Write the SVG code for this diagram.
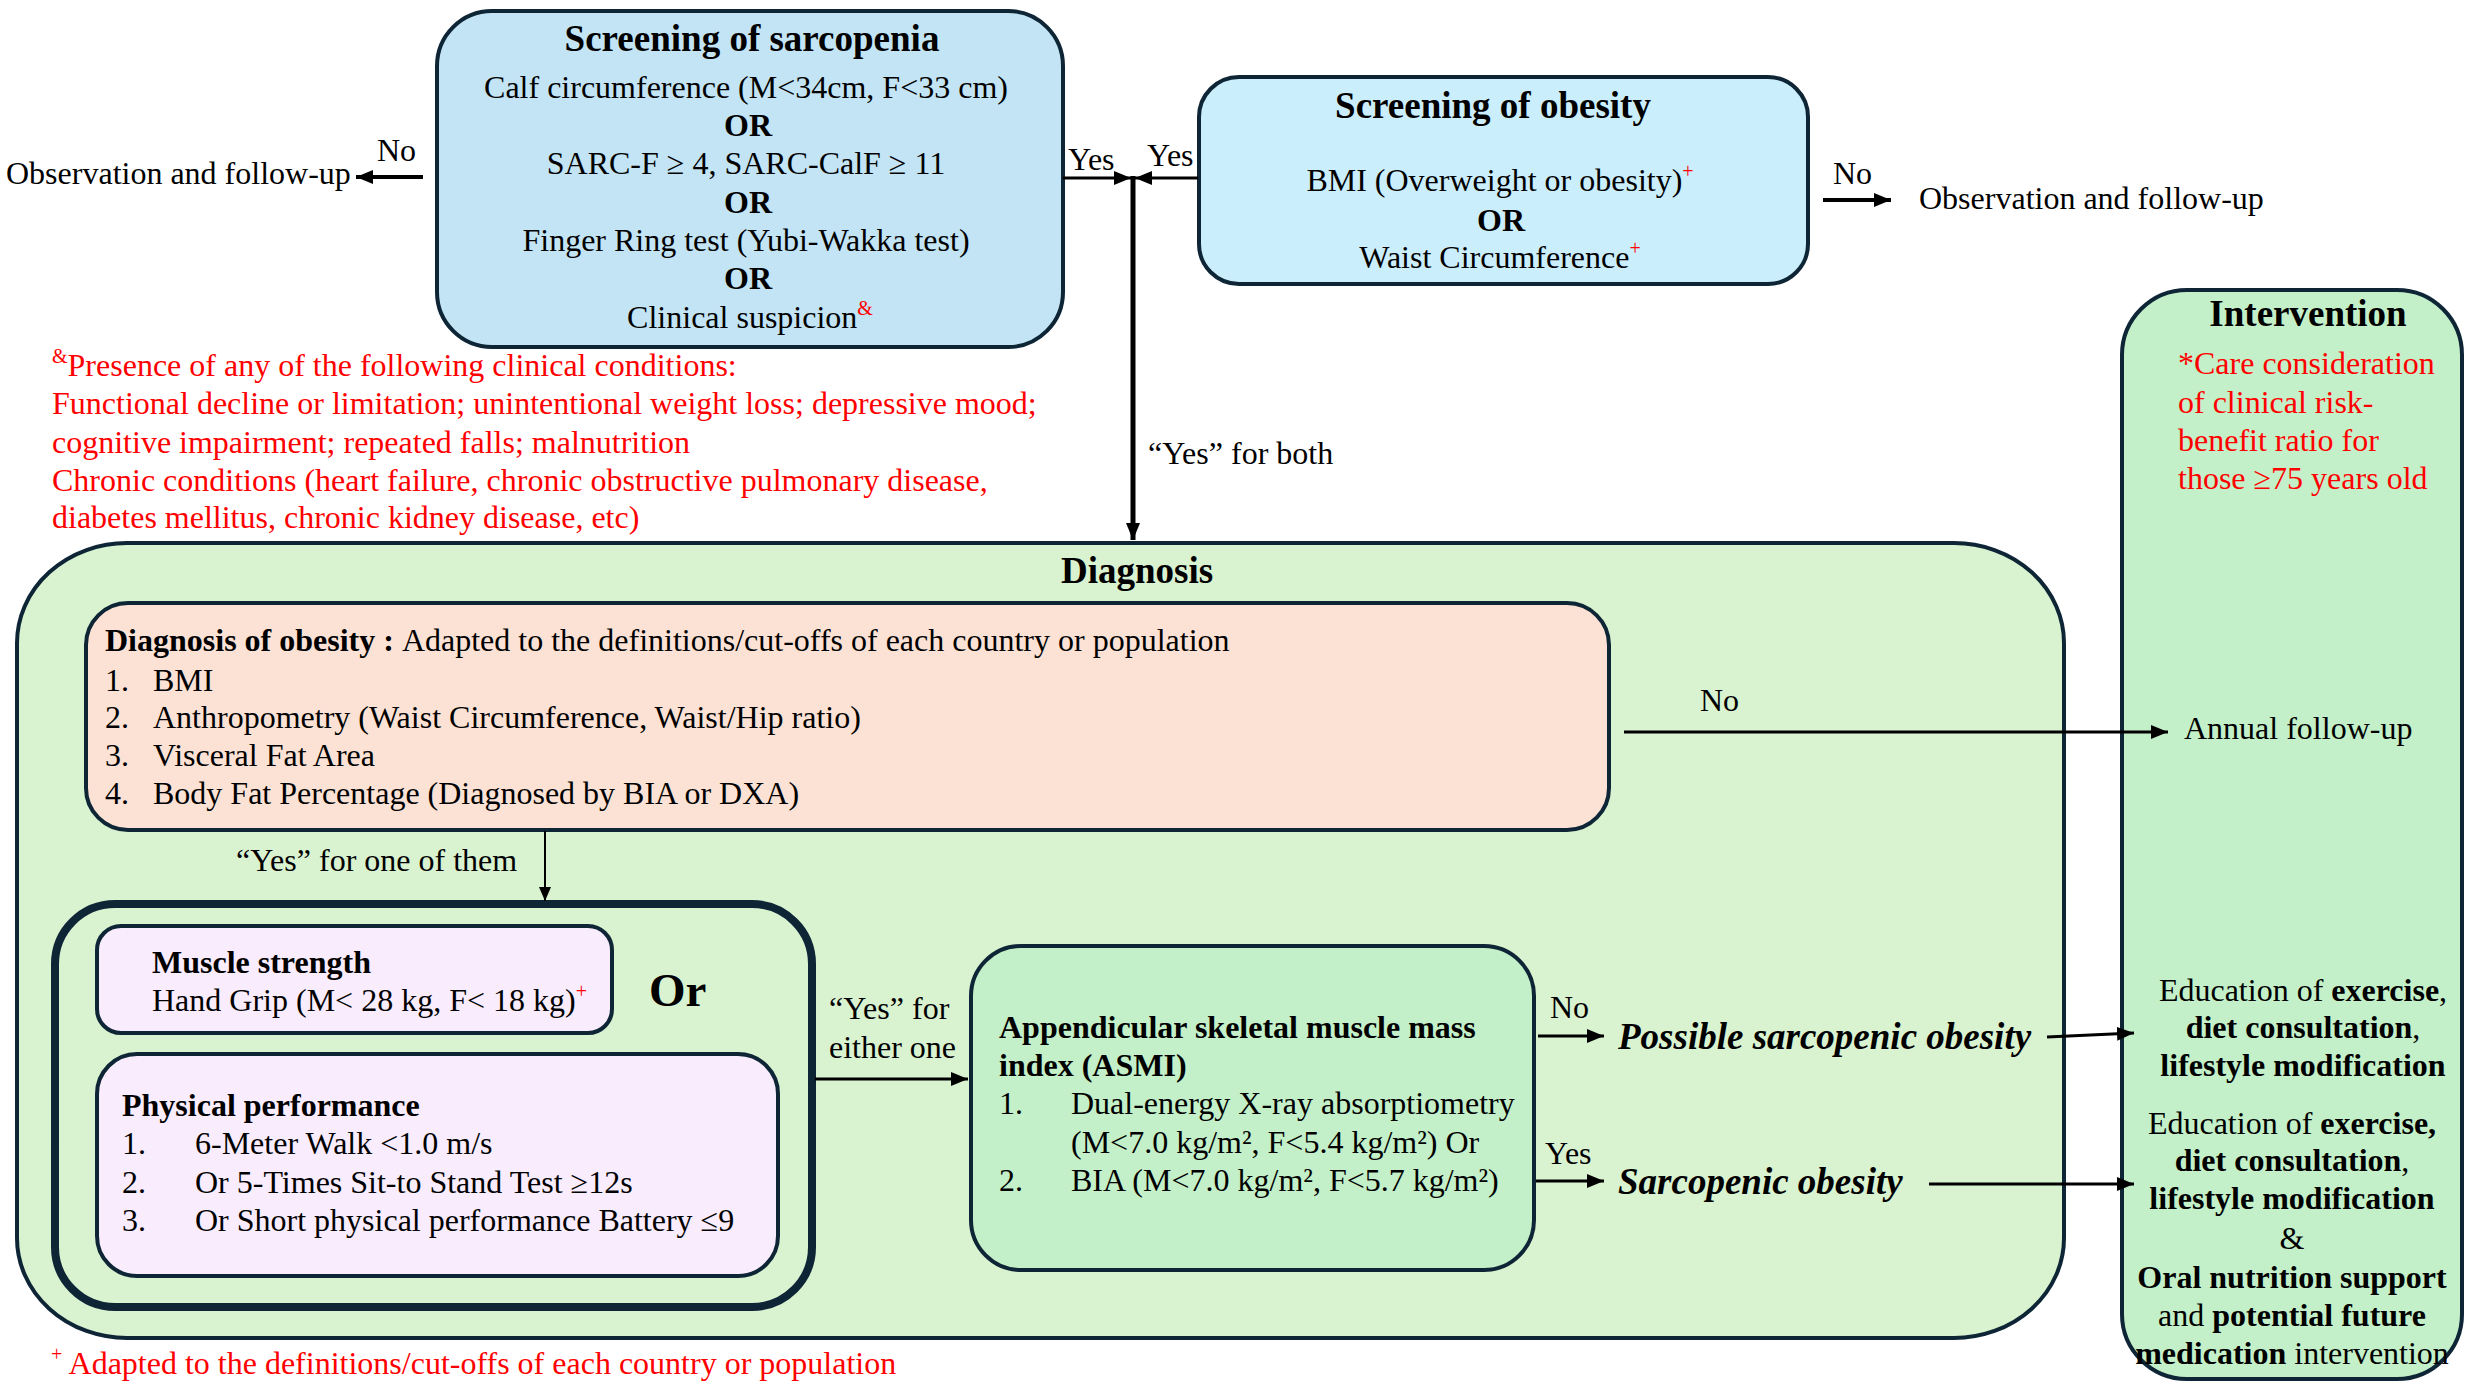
<svg xmlns="http://www.w3.org/2000/svg" width="2465" height="1382" viewBox="0 0 2465 1382">
<defs>
<style>
text{font-family:"Liberation Serif","Times New Roman",serif;font-size:32px;fill:#000}
.b{font-weight:bold}
.t{font-weight:bold;font-size:37px}
.c{text-anchor:middle}
.r{fill:#ff0000}
.bi{font-weight:bold;font-style:italic;font-size:37px}
.or{font-weight:bold;font-size:47px}
.box{stroke:#0e2536;stroke-width:4}
.ln{stroke:#000;stroke-width:3;fill:none}
.w4{stroke-width:4}
.w5{stroke-width:5}
.w2{stroke-width:2}
.sup{font-size:20px;fill:#ff0000}
</style>
<marker id="ah" markerUnits="userSpaceOnUse" markerWidth="18" markerHeight="14" refX="17" refY="7" orient="auto">
<path d="M0,0 L17,7 L0,14 z" fill="#000"/>
</marker>
<marker id="ahs" markerUnits="userSpaceOnUse" markerWidth="14" markerHeight="12" refX="14" refY="6" orient="auto">
<path d="M0,0 L14,6 L0,12 z" fill="#000"/>
</marker>
</defs>
<rect width="2465" height="1382" fill="#fff"/>

<g id="diagnosis">
<rect class="box" x="17" y="543" width="2047" height="795" rx="110" ry="100" fill="#d9f2d0"/>
<text class="t c" x="1137" y="583">Diagnosis</text>
</g>

<g id="screening-sarcopenia">
<rect class="box" x="437" y="11" width="626" height="336" rx="55" fill="#c2e4f4"/>
<text class="t c" x="752" y="51">Screening of sarcopenia</text>
<text class="c" x="746" y="98">Calf circumference (M&lt;34cm, F&lt;33 cm)</text>
<text class="c b" x="748" y="136">OR</text>
<text class="c" x="746" y="174">SARC-F ≥ 4, SARC-CalF ≥ 11</text>
<text class="c b" x="748" y="213">OR</text>
<text class="c" x="746" y="251">Finger Ring test (Yubi-Wakka test)</text>
<text class="c b" x="748" y="289">OR</text>
<text class="c" x="750" y="328">Clinical suspicion<tspan class="sup" dy="-13">&amp;</tspan></text>
</g>

<g id="screening-obesity">
<rect class="box" x="1199" y="77" width="609" height="207" rx="40" fill="#cbeefc"/>
<text class="t c" x="1493" y="118">Screening of obesity</text>
<text class="c" x="1500" y="191">BMI (Overweight or obesity)<tspan class="sup" dy="-13">+</tspan></text>
<text class="c b" x="1501" y="231">OR</text>
<text class="c" x="1500" y="268">Waist Circumference<tspan class="sup" dy="-13">+</tspan></text>
</g>

<g id="obs-left">
<text x="6" y="184">Observation and follow-up</text>
</g>
<g id="obs-right">
<text x="1919" y="209">Observation and follow-up</text>
</g>

<g id="clinical-note">
<text class="r" x="52" y="376"><tspan class="sup" dy="-13">&amp;</tspan><tspan dy="13">Presence of any of the following clinical conditions:</tspan></text>
<text class="r" x="52" y="414">Functional decline or limitation; unintentional weight loss; depressive mood;</text>
<text class="r" x="52" y="453">cognitive impairment; repeated falls; malnutrition</text>
<text class="r" x="52" y="491">Chronic conditions (heart failure, chronic obstructive pulmonary disease,</text>
<text class="r" x="52" y="528">diabetes mellitus, chronic kidney disease, etc)</text>
</g>

<g id="intervention">
<rect class="box" x="2122" y="290" width="340" height="1089" rx="65" fill="#c3f0c8"/>
<text class="t c" x="2308" y="326">Intervention</text>
<text class="r" x="2178" y="374">*Care consideration</text>
<text class="r" x="2178" y="413">of clinical risk-</text>
<text class="r" x="2178" y="451">benefit ratio for</text>
<text class="r" x="2178" y="489">those  ≥75 years old</text>
<text x="2184" y="739">Annual follow-up</text>
<text class="c" x="2303" y="1001">Education of <tspan class="b">exercise</tspan>,</text>
<text class="c b" x="2303" y="1038">diet consultation<tspan font-weight="normal">,</tspan></text>
<text class="c b" x="2303" y="1076">lifestyle modification</text>
<text class="c" x="2292" y="1134">Education of <tspan class="b">exercise,</tspan></text>
<text class="c b" x="2292" y="1171">diet consultation<tspan font-weight="normal">,</tspan></text>
<text class="c b" x="2292" y="1209">lifestyle modification</text>
<text class="c" x="2292" y="1249">&amp;</text>
<text class="c b" x="2292" y="1288">Oral nutrition support</text>
<text class="c" x="2292" y="1326">and <tspan class="b">potential future</tspan></text>
<text class="c" x="2292" y="1364"><tspan class="b">medication</tspan> intervention</text>
</g>

<g id="diagnosis-obesity">
<rect class="box" x="86" y="603" width="1523" height="227" rx="42" fill="#fbe2d5"/>
<text x="105" y="651"><tspan class="b">Diagnosis of obesity  : </tspan>Adapted to the definitions/cut-offs of each country or population</text>
<text x="105" y="691">1.</text><text x="153" y="691">BMI</text>
<text x="105" y="728">2.</text><text x="153" y="728">Anthropometry (Waist Circumference, Waist/Hip ratio)</text>
<text x="105" y="766">3.</text><text x="153" y="766">Visceral Fat Area</text>
<text x="105" y="804">4.</text><text x="153" y="804">Body Fat Percentage (Diagnosed by BIA or DXA)</text>
</g>

<g id="or-group">
<rect x="55" y="904" width="757" height="403" rx="60" fill="#d9f2d0" stroke="#0e2536" stroke-width="8"/>
<text class="or" x="649" y="1006">Or</text>
</g>

<g id="muscle-strength">
<rect class="box" x="97" y="926" width="515" height="107" rx="24" fill="#f8ecfd"/>
<text class="b" x="152" y="973">Muscle strength</text>
<text x="152" y="1011">Hand Grip (M&lt; 28 kg, F&lt; 18 kg)<tspan class="sup" dy="-13">+</tspan></text>
</g>

<g id="physical-performance">
<rect class="box" x="97" y="1054" width="681" height="222" rx="40" fill="#f8ecfd"/>
<text class="b" x="122" y="1116">Physical performance</text>
<text x="122" y="1154">1.</text><text x="195" y="1154">6-Meter Walk &lt;1.0 m/s</text>
<text x="122" y="1193">2.</text><text x="195" y="1193">Or 5-Times Sit-to Stand Test ≥12s</text>
<text x="122" y="1231">3.</text><text x="195" y="1231">Or Short physical performance Battery ≤9</text>
</g>

<g id="asmi">
<rect class="box" x="971" y="946" width="563" height="324" rx="50" fill="#c3f0c8"/>
<text class="b" x="999" y="1038">Appendicular skeletal muscle mass</text>
<text class="b" x="999" y="1076">index (ASMI)</text>
<text x="999" y="1114">1.</text><text x="1071" y="1114">Dual-energy X-ray absorptiometry</text>
<text x="1071" y="1153">(M&lt;7.0 kg/m², F&lt;5.4 kg/m²) Or</text>
<text x="999" y="1191">2.</text><text x="1071" y="1191">BIA (M&lt;7.0 kg/m², F&lt;5.7 kg/m²)</text>
</g>

<g id="possible-so">
<text class="bi" x="1618" y="1049">Possible sarcopenic obesity</text>
</g>
<g id="sarcopenic-obesity">
<text class="bi" x="1618" y="1194">Sarcopenic obesity</text>
</g>

<g id="footnote">
<text class="r" x="51" y="1374"><tspan class="sup" dy="-13">+</tspan><tspan dy="13"> Adapted to the definitions/cut-offs of each country or population</tspan></text>
</g>

<g id="connectors">
<line class="ln w4" x1="423" y1="177" x2="356" y2="177" marker-end="url(#ah)"/>
<text x="377" y="161">No</text>
<line class="ln" x1="1063" y1="178" x2="1131" y2="178" marker-end="url(#ah)"/>
<text x="1068" y="170">Yes</text>
<line class="ln" x1="1198" y1="178" x2="1135" y2="178" marker-end="url(#ah)"/>
<text x="1147" y="166">Yes</text>
<line class="ln w5" x1="1133" y1="176" x2="1133" y2="540" marker-end="url(#ah)"/>
<text x="1148" y="464">“Yes” for both</text>
<line class="ln w4" x1="1823" y1="200" x2="1891" y2="200" marker-end="url(#ah)"/>
<text x="1833" y="184">No</text>
<line class="ln" x1="1624" y1="732" x2="2168" y2="732" marker-end="url(#ah)"/>
<text x="1700" y="711">No</text>
<line class="ln w2" x1="545" y1="831" x2="545" y2="901" marker-end="url(#ahs)"/>
<text x="236" y="871">“Yes” for one of them</text>
<line class="ln" x1="815" y1="1079" x2="968" y2="1079" marker-end="url(#ah)"/>
<text x="829" y="1019">“Yes” for</text>
<text x="829" y="1058">either one</text>
<line class="ln" x1="1538" y1="1036" x2="1604" y2="1036" marker-end="url(#ah)"/>
<text x="1550" y="1018">No</text>
<line class="ln" x1="1536" y1="1181" x2="1604" y2="1181" marker-end="url(#ah)"/>
<text x="1545" y="1164">Yes</text>
<line class="ln" x1="2047" y1="1037" x2="2134" y2="1033" marker-end="url(#ah)"/>
<line class="ln" x1="1929" y1="1184" x2="2134" y2="1184" marker-end="url(#ah)"/>
</g>
</svg>
